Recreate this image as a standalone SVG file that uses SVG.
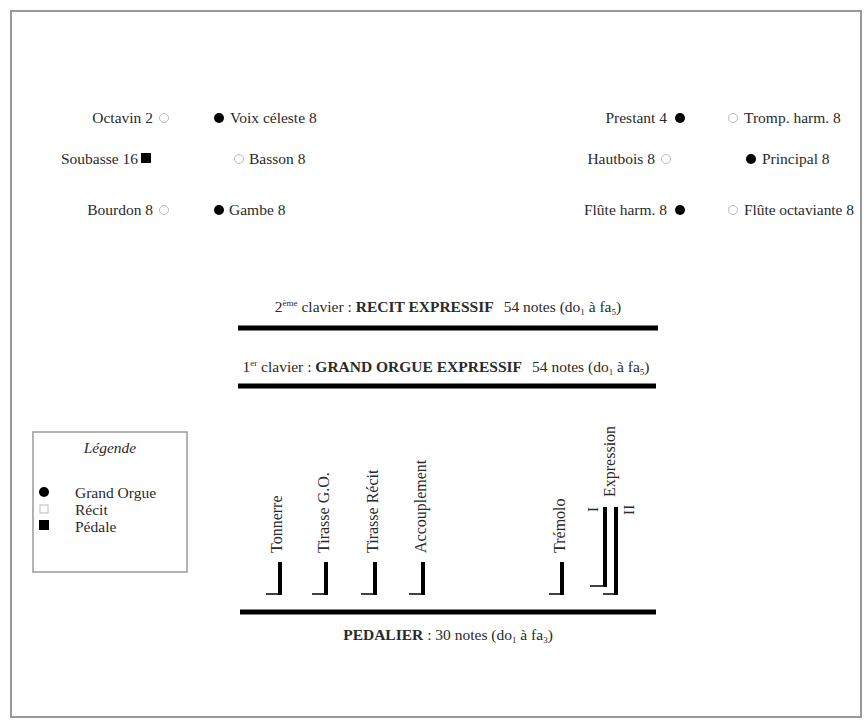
<svg xmlns="http://www.w3.org/2000/svg" width="864" height="720" viewBox="0 0 864 720">
<style>
text{font-family:"Liberation Serif","DejaVu Serif",serif;fill:#2a2a2a;font-size:15.5px}
.r{text-anchor:end}
.m{text-anchor:middle}
.b{font-weight:bold}
.full{fill:#000}
.open{fill:#fff;stroke:#bbb;stroke-width:1}
.bar{stroke:#000;stroke-width:5}
.lev{stroke:#000;stroke-width:4;fill:none}
.foot{stroke:#000;stroke-width:1.5}
.rot{font-size:16px}
</style>
<rect x="0" y="0" width="864" height="720" fill="#fff"/>
<rect x="11" y="11" width="850" height="706" fill="none" stroke="#999" stroke-width="2"/>

<g id="octavin"><text class="r" x="153" y="123">Octavin 2</text><circle class="open" cx="164" cy="118" r="4.5"/></g>
<g id="voix-celeste"><circle class="full" cx="219" cy="118" r="5"/><text x="230" y="123">Voix céleste 8</text></g>
<g id="soubasse"><text class="r" x="138" y="164">Soubasse 16</text><rect class="full" x="141" y="153" width="10" height="10"/></g>
<g id="basson"><circle class="open" cx="239" cy="159" r="4.5"/><text x="249" y="164">Basson 8</text></g>
<g id="bourdon"><text class="r" x="153" y="215">Bourdon 8</text><circle class="open" cx="164" cy="210" r="4.5"/></g>
<g id="gambe"><circle class="full" cx="219" cy="210" r="5"/><text x="229" y="215">Gambe 8</text></g>

<g id="prestant"><text class="r" x="667" y="123">Prestant 4</text><circle class="full" cx="680" cy="118" r="5"/></g>
<g id="tromp"><circle class="open" cx="733" cy="118" r="4.5"/><text x="744" y="123">Tromp. harm. 8</text></g>
<g id="hautbois"><text class="r" x="655" y="164">Hautbois 8</text><circle class="open" cx="666" cy="159" r="4.5"/></g>
<g id="principal"><circle class="full" cx="751" cy="159" r="5"/><text x="762" y="164">Principal 8</text></g>
<g id="flute-harm"><text class="r" x="667" y="215">Flûte harm. 8</text><circle class="full" cx="680" cy="210" r="5"/></g>
<g id="flute-oct"><circle class="open" cx="733" cy="210" r="4.5"/><text x="744" y="215" textLength="110">Flûte octaviante 8</text></g>

<g id="recit">
<text class="m" x="448" y="312" font-size="16">2<tspan font-size="9" dy="-6">ème</tspan><tspan dy="6"> clavier : </tspan><tspan class="b">RECIT EXPRESSIF</tspan><tspan dx="10">54 notes (do</tspan><tspan font-size="9" dy="3">1</tspan><tspan dy="-3"> à fa</tspan><tspan font-size="9" dy="3">5</tspan><tspan dy="-3">)</tspan></text>
<line class="bar" x1="238" y1="328" x2="658" y2="328"/>
</g>
<g id="grand-orgue">
<text class="m" x="446" y="372" font-size="16">1<tspan font-size="9" dy="-6">er</tspan><tspan dy="6"> clavier : </tspan><tspan class="b">GRAND ORGUE EXPRESSIF</tspan><tspan dx="10">54 notes (do</tspan><tspan font-size="9" dy="3">1</tspan><tspan dy="-3"> à fa</tspan><tspan font-size="9" dy="3">5</tspan><tspan dy="-3">)</tspan></text>
<line class="bar" x1="238" y1="386" x2="656" y2="386"/>
</g>
<g id="pedalier">
<line class="bar" x1="240" y1="612" x2="656" y2="612"/>
<text class="m" x="448" y="640" font-size="16"><tspan class="b">PEDALIER</tspan> : 30 notes (do<tspan font-size="9" dy="3">1</tspan><tspan dy="-3"> à fa</tspan><tspan font-size="9" dy="3">3</tspan><tspan dy="-3">)</tspan></text>
</g>

<g id="legende">
<rect x="33" y="432" width="154" height="140" fill="#fff" stroke="#999" stroke-width="1.5"/>
<text class="m" x="110" y="453" font-style="italic" font-size="15">Légende</text>
<circle class="full" cx="44" cy="492" r="5"/><text x="75" y="498" font-size="19">Grand Orgue</text>
<rect class="open" x="40" y="505" width="8" height="8"/><text x="75" y="515" font-size="19">Récit</text>
<rect class="full" x="39" y="520" width="10" height="10"/><text x="75" y="532" font-size="19">Pédale</text>
</g>

<g id="connectors">
<g id="tonnerre"><path class="lev" d="M280 562V595"/><line class="foot" x1="266" y1="594" x2="280" y2="594"/><text class="rot" transform="translate(282,553) rotate(-90)">Tonnerre</text></g>
<g id="tirasse-go"><path class="lev" d="M326 562V595"/><line class="foot" x1="312" y1="594" x2="326" y2="594"/><text class="rot" transform="translate(329,553) rotate(-90)">Tirasse G.O.</text></g>
<g id="tirasse-recit"><path class="lev" d="M375 562V595"/><line class="foot" x1="361" y1="594" x2="375" y2="594"/><text class="rot" transform="translate(378,553) rotate(-90)">Tirasse Récit</text></g>
<g id="accouplement"><path class="lev" d="M423 562V595"/><line class="foot" x1="409" y1="594" x2="423" y2="594"/><text class="rot" transform="translate(426,553) rotate(-90)">Accouplement</text></g>
<g id="tremolo"><path class="lev" d="M562 562V595"/><line class="foot" x1="549" y1="594" x2="562" y2="594"/><text class="rot" transform="translate(565,553) rotate(-90)">Trémolo</text></g>
<g id="expression">
<path class="lev" d="M605 507V587"/><line class="foot" x1="590" y1="586" x2="605" y2="586"/>
<path class="lev" d="M616 507V595"/><line class="foot" x1="603" y1="594" x2="616" y2="594"/>
<text transform="translate(598,512) rotate(-90)" font-size="12">I</text>
<text transform="translate(634,515) rotate(-90)" font-size="12">II</text>
<text class="rot" transform="translate(615,497) rotate(-90)">Expression</text>
</g>
</g>
</svg>
